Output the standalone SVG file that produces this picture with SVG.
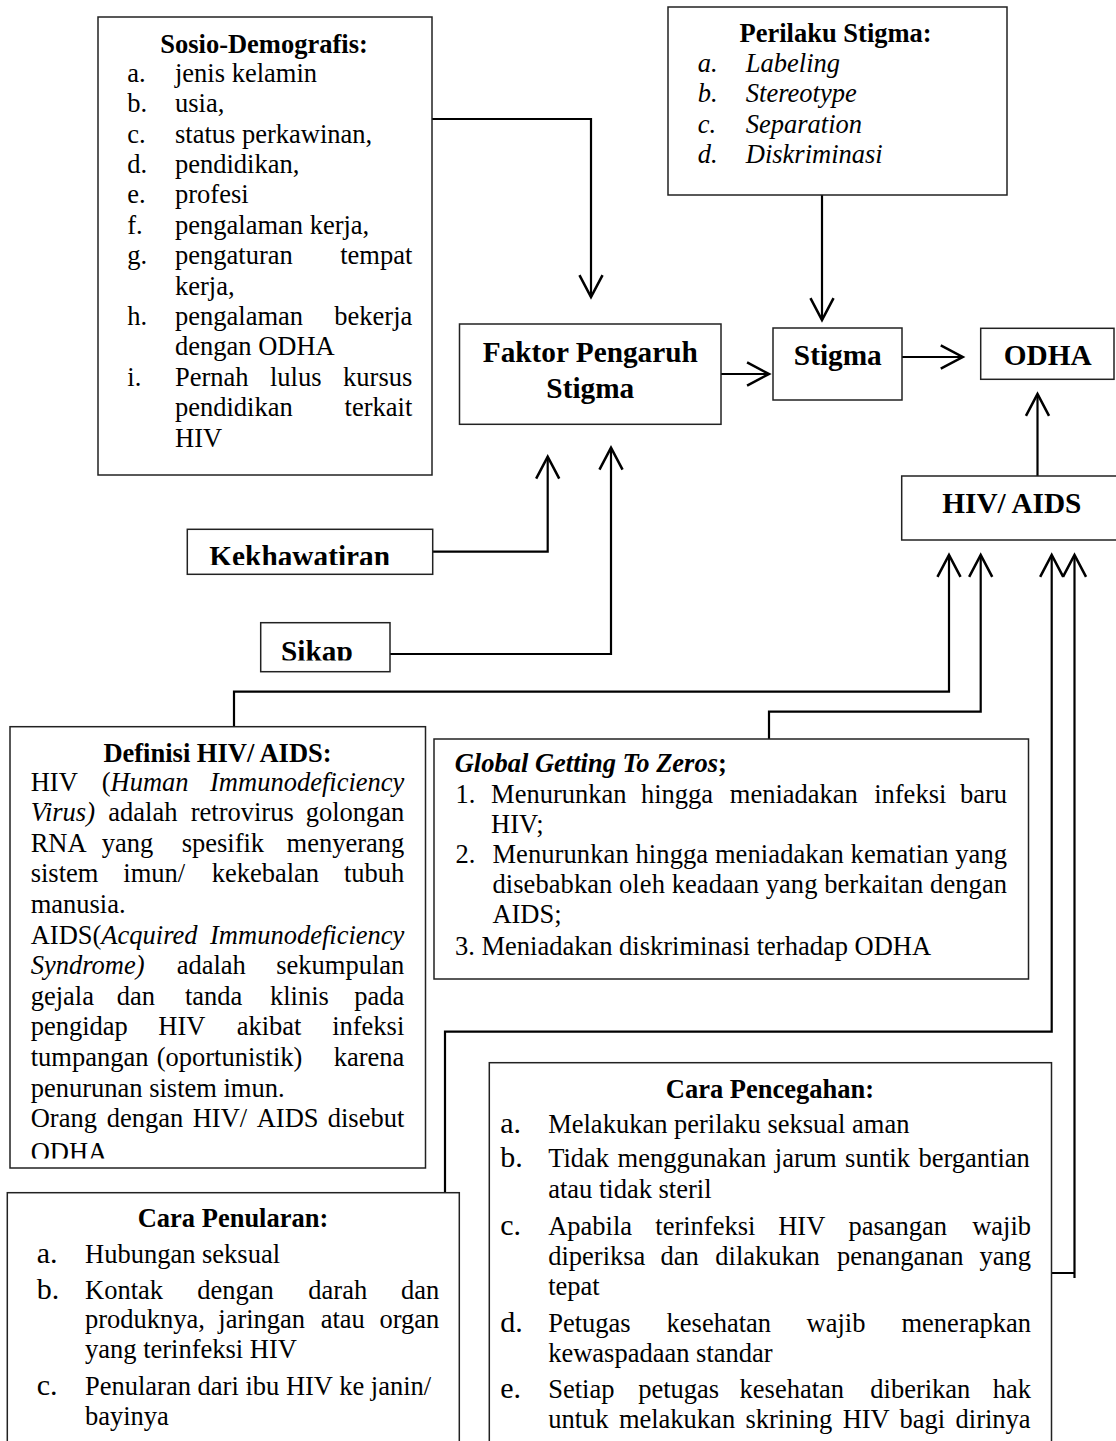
<svg xmlns="http://www.w3.org/2000/svg" width="1116" height="1441" viewBox="0 0 1116 1441">
<style>
text{font-family:"Liberation Serif","Times New Roman",serif;font-size:26.5px;fill:#000}
.b{font-weight:bold}
.i{font-style:italic}
.big{font-size:29.3px;font-weight:bold}
.mk{font-size:30px}
.box{fill:#fff;stroke:#222;stroke-width:1.5}
.con{fill:none;stroke:#000;stroke-width:2.2}
</style>
<defs>
<marker id="ah" markerUnits="userSpaceOnUse" markerWidth="30" markerHeight="30" viewBox="-22 -12 26 24" refX="0" refY="0" orient="auto">
<path d="M-19,-10 L0,0 L-19,10" fill="none" stroke="#000" stroke-width="2.2"/>
</marker>
<clipPath id="clipDef"><rect x="0" y="700" width="440" height="458.5"/></clipPath>
<clipPath id="clipKek"><rect x="180" y="520" width="260" height="45"/></clipPath>
<clipPath id="clipSik"><rect x="250" y="615" width="150" height="45.5"/></clipPath>
</defs>

<g id="connectors">
<path class="con" d="M432,119 H591 V297" marker-end="url(#ah)"/>
<path class="con" d="M822,195 V320" marker-end="url(#ah)"/>
<path class="con" d="M721,374 H769" marker-end="url(#ah)"/>
<path class="con" d="M902,357 H962.7" marker-end="url(#ah)"/>
<path class="con" d="M1037.5,476 V394" marker-end="url(#ah)"/>
<path class="con" d="M432.7,551.7 H547.7 V456.7" marker-end="url(#ah)"/>
<path class="con" d="M390,654 H611 V447.7" marker-end="url(#ah)"/>
<path class="con" d="M234,726.7 V691.7 H949 V555" marker-end="url(#ah)"/>
<path class="con" d="M769,739 V711.7 H980.7 V555" marker-end="url(#ah)"/>
<path class="con" d="M445,1192.7 V1031.7 H1051.7 V555" marker-end="url(#ah)"/>
<path class="con" d="M1051.5,1273 H1074.5 M1074.5,1278 V555" marker-end="url(#ah)"/>
</g>

<g id="sosio">
<rect class="box" x="98" y="17" width="334" height="458"/>
<text class="b" x="264" y="52.7" text-anchor="middle">Sosio-Demografis:</text>
<text x="127.3" y="81.7">a.</text><text x="175" y="81.7">jenis kelamin</text>
<text x="127.3" y="112.1">b.</text><text x="175" y="112.1">usia,</text>
<text x="127.3" y="142.5">c.</text><text x="175" y="142.5">status perkawinan,</text>
<text x="127.3" y="172.9">d.</text><text x="175" y="172.9">pendidikan,</text>
<text x="127.3" y="203.3">e.</text><text x="175" y="203.3">profesi</text>
<text x="127.3" y="233.7">f.</text><text x="175" y="233.7">pengalaman kerja,</text>
<text x="127.3" y="264.1">g.</text><text x="175" y="264.1">pengaturan</text><text x="412.3" y="264.1" text-anchor="end">tempat</text>
<text x="175" y="294.5">kerja,</text>
<text x="127.3" y="324.9">h.</text><text x="175" y="324.9">pengalaman</text><text x="412.3" y="324.9" text-anchor="end">bekerja</text>
<text x="175" y="355.3">dengan ODHA</text>
<text x="127.3" y="385.7">i.</text><text x="175" y="385.7">Pernah</text><text x="270" y="385.7">lulus</text><text x="412.3" y="385.7" text-anchor="end">kursus</text>
<text x="175" y="416.1">pendidikan</text><text x="412.3" y="416.1" text-anchor="end">terkait</text>
<text x="175" y="446.5">HIV</text>
</g>

<g id="perilaku">
<rect class="box" x="668" y="7" width="339" height="188"/>
<text class="b" x="835.6" y="42" text-anchor="middle">Perilaku Stigma:</text>
<text class="i" x="697.8" y="72">a.</text><text class="i" x="745.8" y="72">Labeling</text>
<text class="i" x="697.8" y="102.4">b.</text><text class="i" x="745.8" y="102.4">Stereotype</text>
<text class="i" x="697.8" y="132.8">c.</text><text class="i" x="745.8" y="132.8">Separation</text>
<text class="i" x="697.8" y="163.2">d.</text><text class="i" x="745.8" y="163.2">Diskriminasi</text>
</g>

<g id="faktor">
<rect class="box" x="459.5" y="324" width="261.5" height="100.3"/>
<text class="big" x="590.3" y="361.7" text-anchor="middle">Faktor Pengaruh</text>
<text class="big" x="590.3" y="398" text-anchor="middle">Stigma</text>
</g>

<g id="stigma">
<rect class="box" x="773" y="328" width="129" height="72"/>
<text class="big" x="837.8" y="365" text-anchor="middle">Stigma</text>
</g>

<g id="odha">
<rect class="box" x="980.7" y="328.3" width="133.3" height="51"/>
<text class="big" x="1047.7" y="365" text-anchor="middle">ODHA</text>
</g>

<g id="hivaids">
<rect class="box" x="901.7" y="476" width="220" height="64"/>
<text class="big" x="1011.8" y="513" text-anchor="middle">HIV/ AIDS</text>
</g>

<g id="kekhawatiran">
<rect class="box" x="187.3" y="529.3" width="245.4" height="45"/>
<text class="big" x="209.3" y="566" clip-path="url(#clipKek)">Kekhawatiran</text>
</g>

<g id="sikap">
<rect class="box" x="260.7" y="622.7" width="129.3" height="49"/>
<text class="big" x="281" y="661" clip-path="url(#clipSik)">Sikap</text>
</g>

<g id="definisi">
<rect class="box" x="10" y="726.7" width="415.5" height="441.3"/>
<text class="b" x="217.5" y="761.7" text-anchor="middle">Definisi HIV/ AIDS:</text>
<text x="30.7" y="790.5">HIV</text><text x="101.7" y="790.5">(<tspan class="i">Human</tspan></text><text class="i" x="404.3" y="790.5" text-anchor="end">Immunodeficiency</text>
<text class="i" x="30.7" y="821.1">Virus)</text><text x="108.3" y="821.1">adalah</text><text x="190.7" y="821.1">retrovirus</text><text x="404.3" y="821.1" text-anchor="end">golongan</text>
<text x="30.7" y="851.7">RNA</text><text x="101.7" y="851.7">yang</text><text x="181.7" y="851.7">spesifik</text><text x="404.3" y="851.7" text-anchor="end">menyerang</text>
<text x="30.7" y="882.3">sistem</text><text x="123.3" y="882.3">imun/</text><text x="211.7" y="882.3">kekebalan</text><text x="404.3" y="882.3" text-anchor="end">tubuh</text>
<text x="30.7" y="912.9">manusia.</text>
<text x="30.7" y="943.5">AIDS(<tspan class="i">Acquired</tspan></text><text class="i" x="404.3" y="943.5" text-anchor="end">Immunodeficiency</text>
<text class="i" x="30.7" y="974.1">Syndrome)</text><text x="176.7" y="974.1">adalah</text><text x="404.3" y="974.1" text-anchor="end">sekumpulan</text>
<text x="30.7" y="1004.7">gejala</text><text x="116.7" y="1004.7">dan</text><text x="185" y="1004.7">tanda</text><text x="270" y="1004.7">klinis</text><text x="404.3" y="1004.7" text-anchor="end">pada</text>
<text x="30.7" y="1035.3">pengidap</text><text x="158.3" y="1035.3">HIV</text><text x="236.7" y="1035.3">akibat</text><text x="404.3" y="1035.3" text-anchor="end">infeksi</text>
<text x="30.7" y="1065.9">tumpangan</text><text x="156.7" y="1065.9">(oportunistik)</text><text x="404.3" y="1065.9" text-anchor="end">karena</text>
<text x="30.7" y="1096.5">penurunan sistem imun.</text>
<text x="30.7" y="1127.1">Orang</text><text x="106.7" y="1127.1">dengan</text><text x="192.7" y="1127.1">HIV/</text><text x="256.7" y="1127.1">AIDS</text><text x="404.3" y="1127.1" text-anchor="end">disebut</text>
<text x="30.7" y="1161" clip-path="url(#clipDef)">ODHA</text>
</g>

<g id="global">
<rect class="box" x="434" y="739" width="594.5" height="240"/>
<text class="b" x="454.7" y="771.7"><tspan class="i">Global Getting To Zeros</tspan>;</text>
<text x="455.6" y="803">1.</text><text x="491.1" y="803">Menurunkan</text><text x="640.9" y="803">hingga</text><text x="729.8" y="803">meniadakan</text><text x="874.2" y="803">infeksi</text><text x="1007" y="803" text-anchor="end">baru</text>
<text x="491.1" y="833">HIV;</text>
<text x="455.6" y="863">2.</text><text x="492.4" y="863" textLength="514.6" lengthAdjust="spacing">Menurunkan hingga meniadakan kematian yang</text>
<text x="492.4" y="893" textLength="514.6" lengthAdjust="spacing">disebabkan oleh keadaan yang berkaitan dengan</text>
<text x="492.4" y="923">AIDS;</text>
<text x="455" y="955">3. Meniadakan diskriminasi terhadap ODHA</text>
</g>

<g id="penularan">
<rect class="box" x="7.3" y="1192.7" width="452" height="260"/>
<text class="b" x="233" y="1226.7" text-anchor="middle">Cara Penularan:</text>
<text class="mk" x="36.7" y="1262.7">a.</text><text x="85" y="1262.7">Hubungan seksual</text>
<text class="mk" x="36.7" y="1299.3">b.</text><text x="85" y="1299.3">Kontak</text><text x="197.3" y="1299.3">dengan</text><text x="308.3" y="1299.3">darah</text><text x="439.3" y="1299.3" text-anchor="end">dan</text>
<text x="85" y="1328.3">produknya,</text><text x="218.3" y="1328.3">jaringan</text><text x="320.7" y="1328.3">atau</text><text x="439.3" y="1328.3" text-anchor="end">organ</text>
<text x="85" y="1358.3">yang terinfeksi HIV</text>
<text class="mk" x="36.7" y="1395">c.</text><text x="85" y="1395">Penularan dari ibu HIV ke janin/</text>
<text x="85" y="1425">bayinya</text>
</g>

<g id="pencegahan">
<rect class="box" x="489.3" y="1062.7" width="562.2" height="390"/>
<text class="b" x="770" y="1098" text-anchor="middle">Cara Pencegahan:</text>
<text class="mk" x="500.3" y="1132.7">a.</text><text x="548.2" y="1132.7">Melakukan perilaku seksual aman</text>
<text class="mk" x="500.3" y="1166.7">b.</text><text x="548.2" y="1166.7" word-spacing="1.9">Tidak menggunakan jarum suntik bergantian</text>
<text x="548.2" y="1198">atau tidak steril</text>
<text class="mk" x="500.3" y="1235">c.</text><text x="548.2" y="1235">Apabila</text><text x="655.3" y="1235">terinfeksi</text><text x="778.2" y="1235">HIV</text><text x="848.4" y="1235">pasangan</text><text x="1031" y="1235" text-anchor="end">wajib</text>
<text x="548.2" y="1265">diperiksa</text><text x="660.5" y="1265">dan</text><text x="715.3" y="1265">dilakukan</text><text x="837" y="1265">penanganan</text><text x="1031" y="1265" text-anchor="end">yang</text>
<text x="548.2" y="1295">tepat</text>
<text class="mk" x="500.3" y="1331.7">d.</text><text x="548.2" y="1331.7">Petugas</text><text x="666.6" y="1331.7">kesehatan</text><text x="806.6" y="1331.7">wajib</text><text x="1031" y="1331.7" text-anchor="end">menerapkan</text>
<text x="548.2" y="1361.7">kewaspadaan standar</text>
<text class="mk" x="500.3" y="1398">e.</text><text x="548.2" y="1398">Setiap</text><text x="638.2" y="1398">petugas</text><text x="739.6" y="1398">kesehatan</text><text x="870.3" y="1398">diberikan</text><text x="1031" y="1398" text-anchor="end">hak</text>
<text x="548.2" y="1428" word-spacing="3.7">untuk melakukan skrining HIV bagi dirinya</text>
</g>
</svg>
